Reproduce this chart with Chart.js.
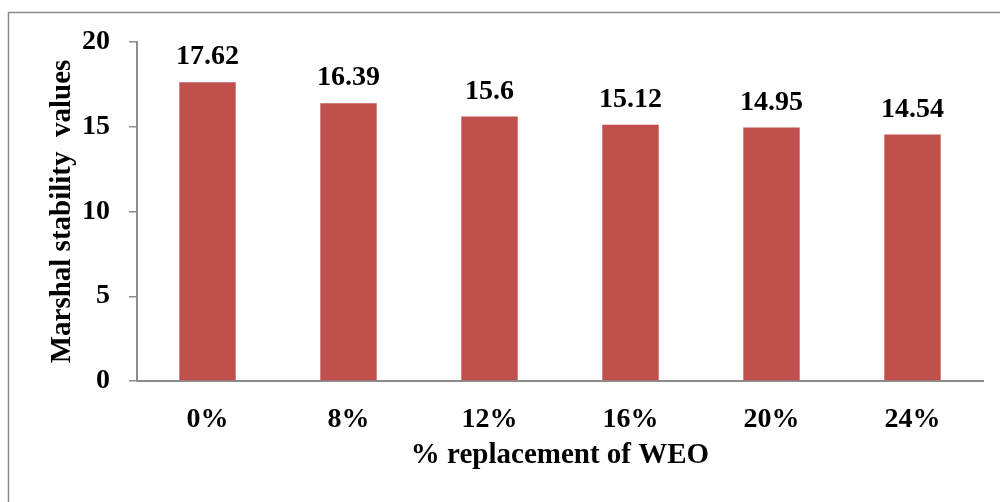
<!DOCTYPE html>
<html>
<head>
<meta charset="utf-8">
<title>Marshal stability values</title>
<script src="https://cdn.jsdelivr.net/npm/chart.js@4.4.1/dist/chart.umd.min.js"></script>
<style>
  html, body { margin: 0; padding: 0; background: #ffffff; }
  canvas { display: block; }
</style>
</head>
<body>
<canvas id="chart" width="1000" height="502"></canvas>
<script>
// Marshal stability for each WEO replacement level
const categories = ['0%', '8%', '12%', '16%', '20%', '24%'];
const stability = [17.62, 16.39, 15.6, 15.12, 14.95, 14.54];
const yTicks = [0, 5, 10, 15, 20];

const FONT = 'Liberation Serif, "Times New Roman", Times, serif';
const AXIS_GREY = '#8c8c8c';

// White page with the frame line along the left and top edges
const framePlugin = {
  id: 'frame',
  beforeDraw(chart) {
    const ctx = chart.ctx;
    ctx.save();
    ctx.fillStyle = '#ffffff';
    ctx.fillRect(0, 0, chart.width, chart.height);
    ctx.strokeStyle = '#8a8a8a';
    ctx.lineWidth = 1.5;
    ctx.beginPath();
    ctx.moveTo(8.5, chart.height);
    ctx.lineTo(8.5, 12.5);
    ctx.lineTo(chart.width, 12.5);
    ctx.stroke();
    ctx.restore();
  }
};

// Value printed above each bar
const valueLabels = {
  id: 'valueLabels',
  afterDatasetsDraw(chart) {
    const ctx = chart.ctx;
    const meta = chart.getDatasetMeta(0);
    const data = chart.data.datasets[0].data;
    ctx.save();
    ctx.font = 'bold 28px ' + FONT;
    ctx.fillStyle = '#000000';
    ctx.textAlign = 'center';
    ctx.textBaseline = 'alphabetic';
    meta.data.forEach((bar, i) => {
      ctx.fillText(String(data[i]), bar.x, bar.y - 18);
    });
    ctx.restore();
  }
};

new Chart(document.getElementById('chart'), {
  type: 'bar',
  data: {
    labels: categories,
    datasets: [{
      data: stability,
      backgroundColor: '#c0504d',
      borderWidth: 0,
      barPercentage: 0.4,
      categoryPercentage: 1.0
    }]
  },
  options: {
    responsive: false,
    animation: false,
    layout: { padding: { left: 0, top: 42, right: 17, bottom: 0 } },
    plugins: {
      legend: { display: false },
      tooltip: { enabled: false },
      title: { display: false }
    },
    scales: {
      x: {
        grid: { display: false, drawTicks: false },
        border: { display: true, color: AXIS_GREY, width: 2 },
        ticks: {
          color: '#000000',
          padding: 22,
          font: { family: FONT, size: 28, weight: 'bold' }
        },
        title: {
          display: true,
          text: '% replacement of WEO',
          color: '#000000',
          font: { family: FONT, size: 29, weight: 'bold' },
          padding: { top: 0, bottom: 29 }
        },
        afterFit(scale) { scale.height = 121; }
      },
      y: {
        min: 0,
        max: 20,
        afterBuildTicks(scale) { scale.ticks = yTicks.map(v => ({ value: v })); },
        grid: {
          drawOnChartArea: false,
          drawTicks: true,
          tickLength: 8,
          color: AXIS_GREY,
          lineWidth: 1.5
        },
        border: { display: true, color: AXIS_GREY, width: 2 },
        ticks: {
          color: '#000000',
          padding: 19,
          font: { family: FONT, size: 28, weight: 'bold' }
        },
        title: {
          display: true,
          text: 'Marshal stability  values',
          color: '#000000',
          font: { family: FONT, size: 29, weight: 'bold' },
          padding: { top: 45, bottom: 0 }
        },
        afterFit(scale) { scale.width = 137; }
      }
    }
  },
  plugins: [framePlugin, valueLabels]
});
</script>
</body>
</html>
